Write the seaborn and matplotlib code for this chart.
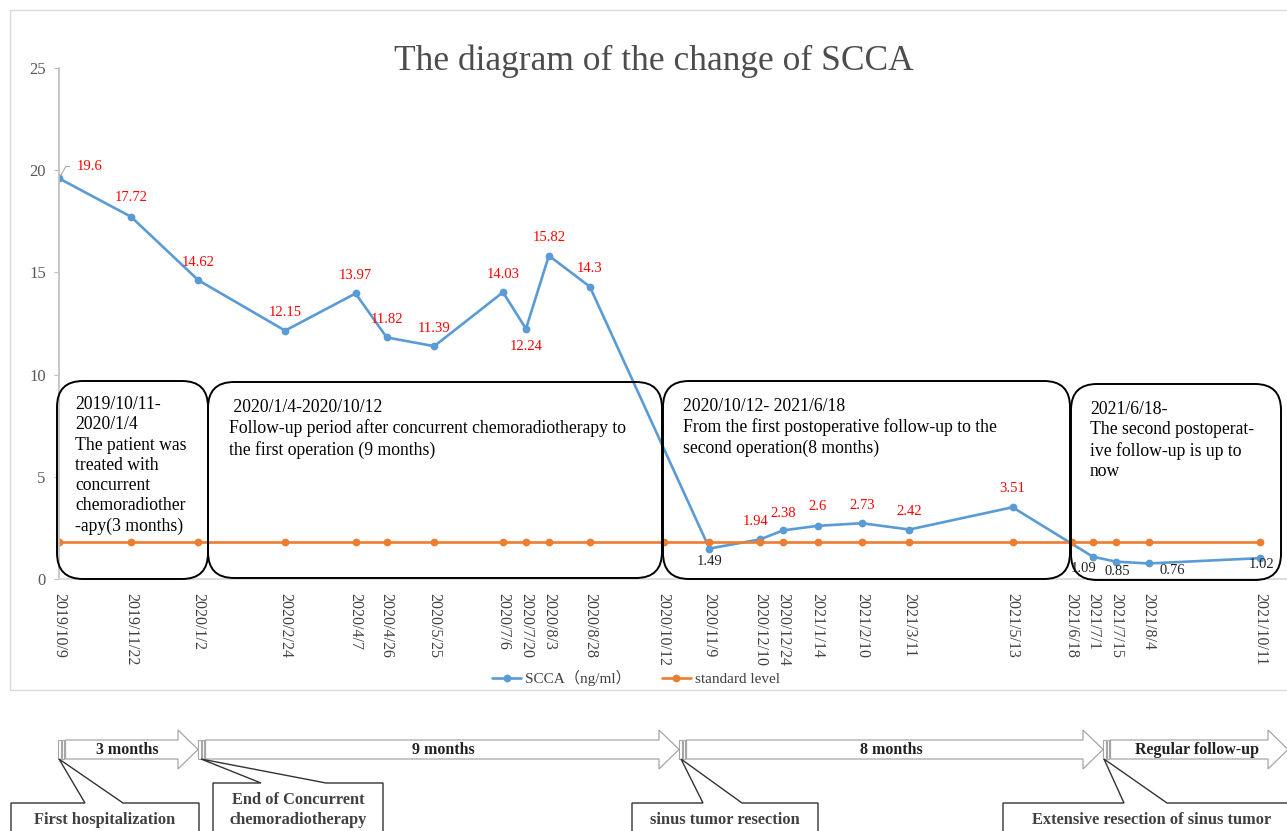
import numpy as np
import pandas as pd
import seaborn as sns
import matplotlib
matplotlib.use("Agg")
from matplotlib import pyplot as plt
from matplotlib import dates as mdates
from matplotlib.patches import FancyBboxPatch, Polygon, Rectangle

# ---- data ----
dates = ["2019/10/9", "2019/11/22", "2020/1/2", "2020/2/24", "2020/4/7", "2020/4/26",
         "2020/5/25", "2020/7/6", "2020/7/20", "2020/8/3", "2020/8/28", "2020/10/12",
         "2020/11/9", "2020/12/10", "2020/12/24", "2021/1/14", "2021/2/10", "2021/3/11",
         "2021/5/13", "2021/6/18", "2021/7/1", "2021/7/15", "2021/8/4", "2021/10/11"]
scca = [19.6, 17.72, 14.62, 12.15, 13.97, 11.82, 11.39, 14.03, 12.24, 15.82, 14.3, np.nan,
        1.49, 1.94, 2.38, 2.6, 2.73, 2.42, 3.51, np.nan, 1.09, 0.85, 0.76, 1.02]
standard = [1.8, 1.8, 1.8, 1.8, 1.8, 1.8, 1.8, 1.8, 1.8, 1.8, 1.8, 1.8,
            1.8, 1.8, 1.8, 1.8, 1.8, 1.8, 1.8, 1.8, 1.8, 1.8, 1.8, 1.8]
series_names = ["SCCA（ng/ml）", "standard level"]
y_ticks = [0, 5, 10, 15, 20, 25]

periods = [
    "2019/10/11-\n2020/1/4\nThe patient was\ntreated with\nconcurrent\nchemoradiother\n-apy(3 months)",
    " 2020/1/4-2020/10/12\nFollow-up period after concurrent chemoradiotherapy to\nthe first operation (9 months)",
    "2020/10/12- 2021/6/18\nFrom the first postoperative follow-up to the\nsecond operation(8 months)",
    "2021/6/18-\nThe second postoperat-\nive follow-up is up to\nnow",
]
phases = ["3 months", "9 months", "8 months", "Regular follow-up"]
events = ["First hospitalization", "End of Concurrent\nchemoradiotherapy",
          "sinus tumor resection", "Extensive resection of sinus tumor"]

# ---- styling / label placement (pixels) ----
label_offsets = [(31, 12), (0, 19), (0, 18), (0, 18), (0, 18), (0, 18), (0, 18), (0, 18),
                 (0, -18), (0, 18), (0, 18), None, (0, -13), (-5, 18), (0, 17), (0, 19),
                 (0, 18), (0, 18), (0, 19), None, (-9, -12), (2, -10), (24, -7), (2, -6)]
label_colors = ["red"] * 12 + ["#222222"] + ["red"] * 7 + ["#222222"] * 4
BLUE, ORANGE = "#5B9BD5", "#ED7D31"
W, H = 1287, 831

sns.set_theme(style="white")
plt.rcParams["font.family"] = ["Liberation Serif", "Noto Sans CJK SC"]

dt = pd.to_datetime(dates, format="%Y/%m/%d")
df = pd.DataFrame({"date": dt, series_names[0]: scca, series_names[1]: standard})
long = df.melt(id_vars="date", var_name="series", value_name="value").dropna()

fig = plt.figure(figsize=(W / 100, H / 100), dpi=100)
ax = fig.add_axes([59 / W, (H - 579) / H, (W - 59) / W, (579 - 68) / H])

sns.lineplot(data=long, x="date", y="value", hue="series", hue_order=series_names,
             palette=[BLUE, ORANGE], marker="o", markersize=5.6, markeredgewidth=0,
             linewidth=1.9, legend=False, ax=ax)

x0 = mdates.date2num(dt[0])
ax.set_xlim(x0, x0 + 749.5)
ax.set_ylim(0, 25)
ax.set_xticks(mdates.date2num(dt))
ax.set_xticklabels(dates, rotation=270, ha="center", va="top", fontsize=11.5, color="#404040")
ax.set_yticks(y_ticks)
ax.set_yticklabels([str(t) for t in y_ticks], fontsize=12, color="#595959")
ax.tick_params(axis="x", length=0, pad=10)
ax.tick_params(axis="y", length=3.5, width=0.8, color="#bfbfbf", pad=6, left=True)
ax.set_xlabel("")
ax.set_ylabel("")
for s in ["top", "right"]:
    ax.spines[s].set_visible(False)
ax.spines["left"].set_color("#bfbfbf")
ax.spines["bottom"].set_color("#d9d9d9")
ax.patch.set_alpha(0)

# data labels
for d, v, off, c in zip(dt, scca, label_offsets, label_colors):
    if off is None or np.isnan(v):
        continue
    kw = {}
    if off[0] > 20 and off[1] > 0:
        kw["arrowprops"] = dict(arrowstyle="-", color="#a6a6a6", lw=0.8, relpos=(0, 0.5),
                                connectionstyle="angle,angleA=0,angleB=60,rad=0",
                                shrinkA=3, shrinkB=3)
    ax.annotate(f"{v:g}", xy=(mdates.date2num(d), v), xytext=off, textcoords="offset pixels",
                ha="center", va="center", fontsize=10.5, color=c, **kw)

fig.legend(handles=ax.lines[:2], labels=series_names, loc="center",
           bbox_to_anchor=(636 / W, 1 - 678 / H), ncol=2, frameon=False, fontsize=11,
           handlelength=1.9, columnspacing=2.0, handletextpad=0.25, labelcolor="#404040")

fig.text(654 / W, 1 - 61 / H, "The diagram of the change of SCCA", ha="center", va="center",
         fontsize=25.5, color="#4d4d4d")

# overlay in pixel coordinates for boxes and timeline
ov = fig.add_axes([0, 0, 1, 1])
ov.set_xlim(0, W)
ov.set_ylim(H, 0)
ov.set_axis_off()

ov.add_patch(Rectangle((10, 10), W, 680, fill=False, ec="#d9d9d9", lw=1))

boxes = [(57, 381, 151, 198), (208, 382, 454, 196), (663, 381, 407, 198), (1071, 384, 210, 196)]
text_pos = [(75, 396), (229, 399), (683, 398), (1090, 401)]
for (bx, by, bw, bh), (tx, ty), txt in zip(boxes, text_pos, periods):
    ov.add_patch(FancyBboxPatch((bx, by), bw, bh, boxstyle="round,pad=0,rounding_size=26",
                                fill=False, ec="black", lw=1.4))
    ov.text(tx, ty, txt, ha="left", va="top", fontsize=12.7, linespacing=1.25, color="black")


def striped_arrow(x_start, x_tip, label, label_x):
    body_top, body_bot, head_top, head_bot = 740, 759, 730, 769
    for bx in (x_start, x_start + 3.5):
        ov.add_patch(Rectangle((bx, body_top), 2.5, body_bot - body_top, fill=False,
                               ec="#a6a6a6", lw=0.8))
    b0, hb = x_start + 7.5, x_tip - 20
    ov.add_patch(Polygon([(b0, body_top), (hb, body_top), (hb, head_top), (x_tip, 749.5),
                          (hb, head_bot), (hb, body_bot), (b0, body_bot)], closed=True,
                         fc="white", ec="#a6a6a6", lw=0.9))
    ov.text(label_x, 750, label, ha="center", va="center", fontsize=11.5, fontweight="bold",
            color="#222222")


striped_arrow(58, 198, phases[0], 127)
striped_arrow(198, 679, phases[1], 443)
striped_arrow(679, 1103, phases[2], 891)
striped_arrow(1103, 1288, phases[3], 1197)


def callout(left, right, top, apex, b1, b2, label, text_y):
    bottom = H + 20
    ov.add_patch(Polygon([(left, bottom), (left, top), (b1, top), apex, (b2, top),
                          (right, top), (right, bottom)], closed=False, fill=False,
                         ec="#333333", lw=1))
    ov.text((left + right) / 2, text_y, label, ha="center", va="center", fontsize=11.8,
            fontweight="bold", color="#404040", linespacing=1.4)


callout(11, 199, 803, (59, 759), 85, 123, events[0], 820)
callout(213, 383, 783, (201, 759), 261, 326, events[1], 810)
callout(632, 818, 803, (681, 759), 703, 742, events[2], 820)
callout(1003, 1300, 803, (1104, 759), 1124, 1167, events[3], 820)

fig.savefig("out.png", dpi=100)
